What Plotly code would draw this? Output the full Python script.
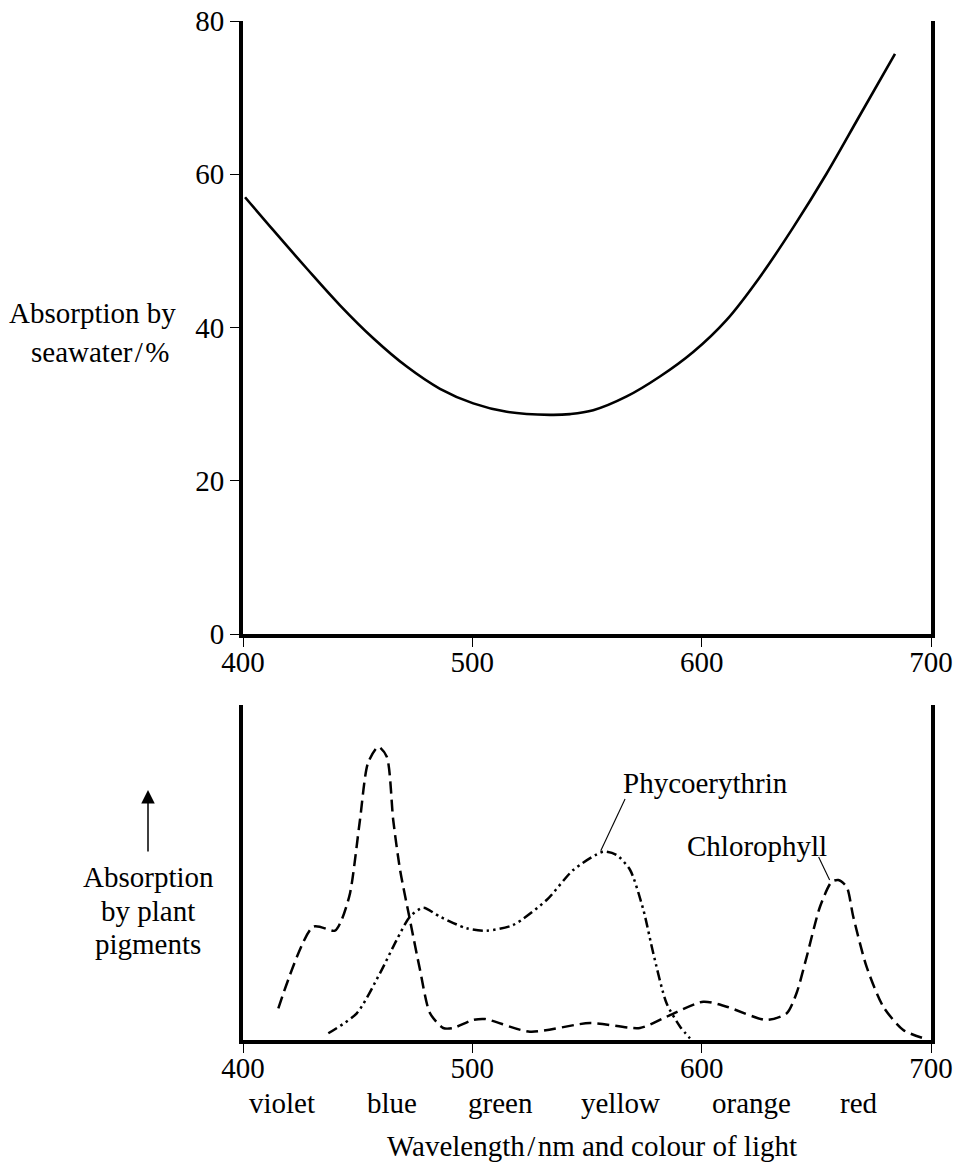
import plotly.graph_objects as go

# ---------------- data ----------------
# Top panel: absorption of light by seawater (%)
sea_wl = [400.9, 413.2, 427.8, 442.3, 456.8, 471.4, 485.9, 500.4, 515.0, 533.9,
          542.6, 552.7, 567.3, 581.8, 596.3, 610.9, 625.4, 640.0, 654.5, 669.0, 684.3]
sea_abs = [57.0, 52.7, 47.7, 42.9, 38.6, 34.9, 32.0, 30.1, 29.0, 28.6,
           28.7, 29.2, 31.0, 33.6, 36.8, 41.0, 46.6, 53.1, 60.1, 67.7, 75.7]

# Bottom panel: absorption by plant pigments (relative units)
chl_wl = [415.4, 430.7, 440.1, 443.0, 446.7, 451.0, 454.5, 459.0, 462.7, 465.5,
          468.5, 472.8, 477.2, 481.5, 487.3, 491.6, 500.3, 505.5, 525.1, 551.3,
          573.1, 584.7, 600.7, 610.9, 628.3, 637.1, 641.4, 645.8, 651.6, 656.7,
          659.6, 663.2, 666.1, 671.9, 679.2, 687.9, 698.1]
chl_abs = [31.7, 113.3, 109.3, 120.0, 147.0, 220.0, 277.0, 293.3, 283.3, 220.0,
           170.0, 120.0, 70.0, 27.0, 12.0, 12.0, 20.0, 21.0, 8.3, 17.0,
           12.0, 23.3, 38.3, 33.3, 20.0, 26.7, 47.0, 83.3, 133.3, 158.3,
           160.0, 153.3, 123.3, 73.3, 33.3, 10.0, 0.7]

phy_wl = [437.2, 449.6, 459.7, 467.0, 472.8, 478.6, 485.9, 497.5, 506.2, 517.8,
          532.4, 544.0, 557.1, 562.9, 568.8, 574.6, 578.9, 584.7, 590.6, 594.9]
phy_abs = [6.7, 26.7, 66.7, 100.0, 123.3, 132.3, 123.3, 111.7, 109.3, 115.0,
           140.0, 170.0, 188.3, 185.0, 170.0, 130.0, 86.7, 36.7, 13.3, 1.7]

x_ticks = [400, 500, 600, 700]
y_ticks_top = [0, 20, 40, 60, 80]

colour_names = ["violet", "blue", "green", "yellow", "orange", "red"]
colour_wl = [417.2, 465.0, 512.1, 564.8, 621.9, 668.8]

# ---------------- figure ----------------
FONT = "Liberation Serif"
FS = 29
BLACK = "#000000"
HS = "\u200a"  # hair space

fig = go.Figure()

fig.add_trace(go.Scatter(x=sea_wl, y=sea_abs, mode="lines", xaxis="x", yaxis="y",
                         line=dict(color=BLACK, width=2.6, shape="spline", smoothing=1.0),
                         showlegend=False, hoverinfo="skip"))
fig.add_trace(go.Scatter(x=chl_wl, y=chl_abs, mode="lines", xaxis="x2", yaxis="y2",
                         line=dict(color=BLACK, width=2.5, shape="spline", smoothing=0.7,
                                   dash="12px,6px"),
                         showlegend=False, hoverinfo="skip"))
fig.add_trace(go.Scatter(x=phy_wl, y=phy_abs, mode="lines", xaxis="x2", yaxis="y2",
                         line=dict(color=BLACK, width=2.5, shape="spline", smoothing=0.7,
                                   dash="10px,4px,2.5px,4px,2.5px,4px"),
                         showlegend=False, hoverinfo="skip"))

axis_common = dict(showgrid=False, zeroline=False, showline=True, linecolor=BLACK,
                   linewidth=4, ticks="outside", ticklen=9, tickwidth=1.3,
                   tickcolor=BLACK, automargin=False,
                   tickfont=dict(family=FONT, size=FS, color=BLACK))

top_dom = [(1040 - 634) / 1019, 1.0]
bot_dom = [0.0, (1040 - 705) / 1019]

fig.update_layout(
    width=957, height=1162,
    margin=dict(l=243, r=26, t=21, b=122),
    paper_bgcolor="white", plot_bgcolor="white",
    font=dict(family=FONT, size=FS, color=BLACK),
    xaxis=dict(axis_common, range=[400, 700], tickvals=x_ticks, anchor="y",
               domain=[0, 1], ticklabelstandoff=-10),
    yaxis=dict(axis_common, range=[0, 80], tickvals=y_ticks_top, anchor="x",
               domain=top_dom, mirror=True),
    xaxis2=dict(axis_common, range=[400, 700], tickvals=x_ticks, anchor="y2",
                domain=[0, 1], ticklabelstandoff=-10),
    yaxis2=dict(axis_common, range=[0, 335], anchor="x2", domain=bot_dom,
                mirror=True, ticks="", showticklabels=False),
)

ann = []
# top y label
ann.append(dict(text="Absorption by", x=(92 - 243) / 688, y=(1040 - 313) / 1019,
                xref="paper", yref="paper", showarrow=False,
                xanchor="center", yanchor="middle"))
ann.append(dict(text=f"seawater{HS}/{HS}%", x=(100 - 243) / 688, y=(1040 - 352) / 1019,
                xref="paper", yref="paper", showarrow=False,
                xanchor="center", yanchor="middle"))
# bottom y label
for txt, py in [("Absorption", 877), ("by plant", 911), ("pigments", 944)]:
    ann.append(dict(text=txt, x=(148 - 243) / 688, y=(1040 - py) / 1019,
                    xref="paper", yref="paper", showarrow=False,
                    xanchor="center", yanchor="middle"))
# arrow
ann.append(dict(text="", x=(148 - 243) / 688, y=(1040 - 790) / 1019,
                xref="paper", yref="paper", showarrow=True,
                ax=0, ay=63, arrowhead=2, arrowsize=1.8, arrowwidth=1.5,
                arrowcolor=BLACK))
# colour names
for name, wl in zip(colour_names, colour_wl):
    ann.append(dict(text=name, x=wl, y=(1040 - 1103) / 1019, xref="x2", yref="paper",
                    showarrow=False, xanchor="center", yanchor="middle"))
# x title
ann.append(dict(text=f"Wavelength{HS}/{HS}nm and colour of light",
                x=(592 - 243) / 688, y=(1040 - 1146) / 1019,
                xref="paper", yref="paper", showarrow=False,
                xanchor="center", yanchor="middle"))
# curve labels
ann.append(dict(text="Phycoerythrin", x=601.5, y=257, xref="x2", yref="y2",
                showarrow=False, xanchor="center", yanchor="middle"))
ann.append(dict(text="Chlorophyll", x=624.1, y=194, xref="x2", yref="y2",
                showarrow=False, xanchor="center", yanchor="middle"))
fig.update_layout(annotations=ann)

# pointer lines from labels to curves
fig.add_shape(type="line", xref="x2", yref="y2", x0=566.6, y0=241, x1=556.0, y1=189.3,
              line=dict(color=BLACK, width=1.1))
fig.add_shape(type="line", xref="x2", yref="y2", x0=651.0, y0=183, x1=655.8, y1=160,
              line=dict(color=BLACK, width=1.1))

fig.write_html("out.html", config={"displayModeBar": False},
               post_script="document.body.style.margin='0';document.body.style.overflow='hidden';")
